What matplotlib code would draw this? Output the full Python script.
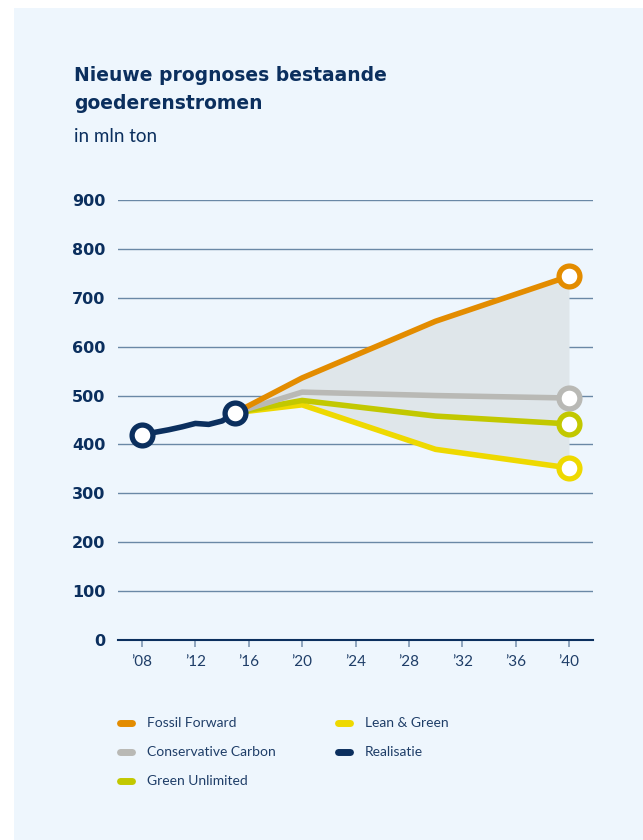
import matplotlib
matplotlib.use("Agg")
import matplotlib.pyplot as plt
from matplotlib.patches import Rectangle
from matplotlib.lines import Line2D

plt.rcParams['font.family'] = ['Lato', 'DejaVu Sans']

# Data
real_years = [2008, 2009, 2010, 2011, 2012, 2013, 2014, 2015]
real_vals = [420, 425, 430, 436, 443, 441, 448, 465]

scen_years = [2015, 2020, 2030, 2040]
fossil = [465, 536, 652, 744]
conservative = [465, 507, 500, 495]
green_unlimited = [465, 490, 458, 442]
lean_green = [465, 481, 390, 352]

xtick_years = [2008, 2012, 2016, 2020, 2024, 2028, 2032, 2036, 2040]
xtick_labels = ["\u201908", "\u201912", "\u201916", "\u201920", "\u201924", "\u201928", "\u201932", "\u201936", "\u201940"]
yticks = [0, 100, 200, 300, 400, 500, 600, 700, 800, 900]

title = "Nieuwe prognoses bestaande\ngoederenstromen"
subtitle = "in mln ton"

C_ORANGE = "#e38c00"
C_GRAY = "#b9b9b5"
C_GREEN = "#c2c800"
C_YELLOW = "#eed900"
C_NAVY = "#0b2f5e"
C_BG = "#eef6fd"
C_GRID = "#6a88a6"
C_FILL = "#dfe6ea"

W, H = 643, 840
fig = plt.figure(figsize=(W / 100, H / 100), dpi=100)
fig.patch.set_facecolor("white")
fig.add_artist(Rectangle((14 / W, 0), 1 - 14 / W, (H - 8) / H, transform=fig.transFigure,
                         facecolor=C_BG, edgecolor="none", zorder=0))

ax = fig.add_axes([118 / W, 200 / H, 475 / W, 440 / H])
ax.set_facecolor("none")
ax.set_xlim(2006.2, 2041.8)
ax.set_ylim(0, 900)

for s in ["top", "right", "left"]:
    ax.spines[s].set_visible(False)
ax.spines["bottom"].set_color(C_NAVY)
ax.spines["bottom"].set_linewidth(1.5)

for y in yticks[1:]:
    ax.axhline(y, color=C_GRID, lw=1.0, zorder=1)

ax.set_yticks(yticks)
ax.set_yticklabels([str(v) for v in yticks], fontsize=11.5, fontweight="bold", color=C_NAVY,
                   family="DejaVu Sans")
ax.tick_params(axis="y", length=0, pad=9)
ax.set_xticks(xtick_years)
ax.set_xticklabels(xtick_labels, fontsize=11, color="#1f3e68")
ax.tick_params(axis="x", length=5, width=1.2, color="#7f98b3", pad=6)

# shaded range
ax.fill_between(scen_years, lean_green, fossil, color=C_FILL, lw=0, zorder=2)

lw = 4.0
ax.plot(scen_years, lean_green, color=C_YELLOW, lw=lw, zorder=3, solid_capstyle="round")
ax.plot(scen_years, green_unlimited, color=C_GREEN, lw=lw, zorder=4, solid_capstyle="round")
ax.plot(scen_years, conservative, color=C_GRAY, lw=lw, zorder=5, solid_capstyle="round")
ax.plot(scen_years, fossil, color=C_ORANGE, lw=lw, zorder=6, solid_capstyle="round")
ax.plot(real_years, real_vals, color=C_NAVY, lw=lw, zorder=7, solid_capstyle="round")

ms = 15
mew = 3.8
for series, c in [(fossil, C_ORANGE), (conservative, C_GRAY), (green_unlimited, C_GREEN), (lean_green, C_YELLOW)]:
    ax.plot([scen_years[-1]], [series[-1]], "o", ms=ms, mfc="white", mec=c, mew=mew, zorder=8, clip_on=False)
ax.plot([real_years[0], real_years[-1]], [real_vals[0], real_vals[-1]], "o", ms=ms, mfc="white",
        mec=C_NAVY, mew=mew, ls="none", zorder=9, clip_on=False)

# Titles
fig.text(74 / W, 1 - 66 / H, title, fontsize=13.5, fontweight="bold", color=C_NAVY,
         va="top", ha="left", linespacing=1.6, family="DejaVu Sans")
fig.text(74 / W, 1 - 136 / H, subtitle, fontsize=13.5, color=C_NAVY, va="center", ha="left")

# Legend
legend_items = [
    ("Fossil Forward", C_ORANGE, 117, 723),
    ("Conservative Carbon", C_GRAY, 117, 752),
    ("Green Unlimited", C_GREEN, 117, 781),
    ("Lean & Green", C_YELLOW, 335, 723),
    ("Realisatie", C_NAVY, 335, 752),
]
for label, c, x, y in legend_items:
    fig.add_artist(Line2D([(x + 3) / W, (x + 15) / W], [1 - y / H, 1 - y / H], transform=fig.transFigure,
                          color=c, lw=5, solid_capstyle="round"))
    fig.text((x + 30) / W, 1 - y / H, label, fontsize=10, color="#1f3e68", va="center", ha="left")

fig.savefig("out.png", dpi=100, facecolor=fig.get_facecolor())
